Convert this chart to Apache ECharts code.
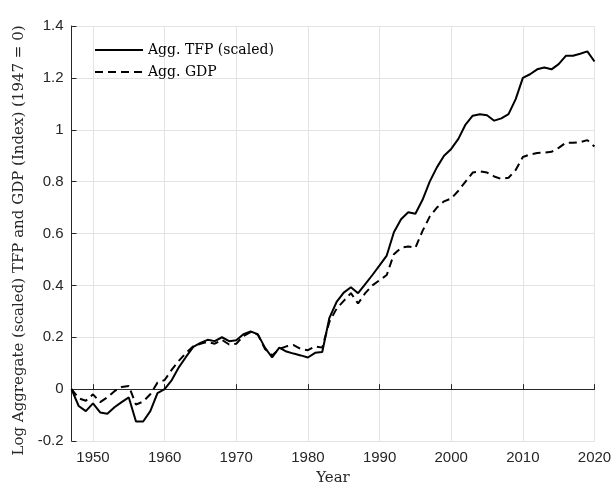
<!DOCTYPE html>
<html>
<head>
<meta charset="utf-8">
<script src="https://cdn.jsdelivr.net/npm/echarts@6/dist/echarts.min.js"></script>
<style>
html,body{margin:0;padding:0;background:#fff;}
#chart{width:614px;height:486px;}
</style>
</head>
<body>
<div id="chart"></div>
<script>
const years = [];
for (let y = 1947; y <= 2020; y++) years.push(String(y));

const tfp = [
  0, -0.065, -0.085, -0.055, -0.09, -0.095, -0.07, -0.05, -0.032, -0.125,
  -0.125, -0.085, -0.015, 0.0, 0.035, 0.085, 0.125, 0.163, 0.178, 0.19,
  0.185, 0.2, 0.185, 0.188, 0.212, 0.222, 0.212, 0.16, 0.122, 0.16,
  0.145, 0.137, 0.13, 0.122, 0.14, 0.143, 0.275, 0.336, 0.372, 0.393,
  0.37, 0.405, 0.44, 0.477, 0.515, 0.605, 0.655, 0.682, 0.676, 0.73,
  0.8, 0.855, 0.9, 0.926, 0.965, 1.02, 1.054, 1.06, 1.056, 1.035,
  1.044, 1.06, 1.118, 1.2, 1.214, 1.233, 1.24, 1.233, 1.253, 1.285,
  1.285, 1.293, 1.302, 1.263
];

const gdp = [
  0, -0.035, -0.045, -0.02, -0.05, -0.032, -0.008, 0.008, 0.012, -0.06,
  -0.048, -0.02, 0.025, 0.035, 0.075, 0.11, 0.14, 0.165, 0.175, 0.182,
  0.175, 0.19, 0.172, 0.175, 0.205, 0.22, 0.21, 0.155, 0.13, 0.155,
  0.165, 0.17, 0.155, 0.15, 0.165, 0.16, 0.26, 0.31, 0.34, 0.37,
  0.33, 0.37, 0.4, 0.42, 0.44, 0.52, 0.545, 0.55, 0.545, 0.61,
  0.665, 0.7, 0.724, 0.735, 0.765, 0.8, 0.835, 0.84, 0.835, 0.82,
  0.81, 0.815, 0.845, 0.895, 0.905, 0.91, 0.912, 0.915, 0.93, 0.95,
  0.95, 0.952, 0.96, 0.935
];

const seriesNames = ['Agg. TFP (scaled)', 'Agg. GDP'];
const yTitle = 'Log Aggregate (scaled) TFP and GDP (Index) (1947 = 0)';
const xTitle = 'Year';

const chart = echarts.init(document.getElementById('chart'), null, {renderer: 'canvas'});
const serif = 'DejaVu Serif';
const sans = 'Liberation Sans';
const axisColor = '#262626';
const gridColor = '#e3e3e3';
const decade = (i, v) => Number(v) % 10 === 0;

chart.setOption({
  animation: false,
  backgroundColor: '#fff',
  grid: {left: 71.5, right: 19.5, top: 26, bottom: 45, containLabel: false, outerBoundsMode: 'none'},
  legend: {
    orient: 'vertical',
    left: 89, top: 38,
    itemWidth: 48, itemHeight: 10, itemGap: 8,
    itemStyle: {opacity: 0},
    textStyle: {fontFamily: serif, fontSize: 14, color: '#000'},
    data: seriesNames
  },
  xAxis: {
    type: 'category',
    data: years,
    boundaryGap: false,
    name: xTitle,
    nameLocation: 'middle',
    nameGap: 30,
    nameTextStyle: {fontFamily: serif, fontSize: 15, color: '#262626'},
    axisLine: {show: true, lineStyle: {color: axisColor, width: 1}},
    axisTick: {show: true, inside: true, length: 5, interval: decade, lineStyle: {color: axisColor}},
    axisLabel: {interval: decade, fontFamily: sans, fontSize: 15, color: axisColor, margin: 9},
    splitLine: {show: true, interval: decade, lineStyle: {color: gridColor, width: 1}}
  },
  yAxis: {
    type: 'value',
    min: -0.2, max: 1.4, interval: 0.2,
    name: yTitle,
    nameLocation: 'middle',
    nameGap: 43,
    nameRotate: 90,
    nameTextStyle: {fontFamily: serif, fontSize: 15, color: '#262626', padding: [0, 14, 0, 0]},
    axisLine: {show: true, lineStyle: {color: axisColor, width: 1}},
    axisTick: {show: true, inside: true, length: 5, lineStyle: {color: axisColor}},
    axisLabel: {
      fontFamily: sans, fontSize: 15, color: axisColor, margin: 8,
      formatter: v => String(Math.round(v * 10) / 10)
    },
    splitLine: {show: true, lineStyle: {color: gridColor, width: 1}}
  },
  series: [
    {
      name: seriesNames[0], type: 'line', data: tfp, symbol: 'none',
      lineStyle: {color: '#000', width: 2, type: 'solid'}, itemStyle: {color: '#000'}
    },
    {
      name: seriesNames[1], type: 'line', data: gdp, symbol: 'none',
      lineStyle: {color: '#000', width: 2, type: [8, 5]}, itemStyle: {color: '#000'}
    }
  ]
});
</script>
</body>
</html>
